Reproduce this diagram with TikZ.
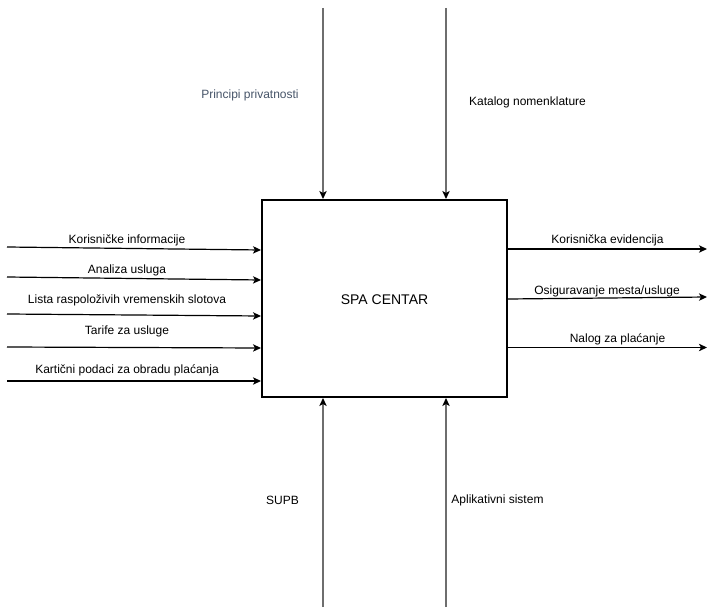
\documentclass[tikz,border=0pt]{standalone}
\usepackage{fontspec}
\setmainfont{Liberation Sans}
\usetikzlibrary{arrows.meta}
\definecolor{vline}{RGB}{110,110,110}
\definecolor{ctrltext}{RGB}{70,84,104}
\begin{document}
\begin{tikzpicture}[x=0.75pt,y=-0.75pt,
  font=\fontsize{9}{11}\selectfont,
  arr/.style={line width=0.9pt,-{Stealth[length=6pt,width=5.5pt,inset=1.5pt,black]}},
  varr/.style={arr,draw=vline},
  lbl/.style={inner sep=0pt,anchor=center}]
\useasboundingbox (0,0) rectangle (716,616);
\node[draw,line width=0.9pt,minimum width=245*0.75pt,minimum height=197*0.75pt,inner sep=0pt] (box) at (384.5,298.5) {};
\node[lbl,font=\fontsize{10.5}{12}\selectfont] (title) at (384.5,300) {SPA CENTAR};
% inputs
\coordinate (i1s) at (7,247); \coordinate (i1e) at (261,250);
\coordinate (i2s) at (7,277); \coordinate (i2e) at (261,280);
\coordinate (i3s) at (7,314); \coordinate (i3e) at (261,316);
\coordinate (i4s) at (7,347); \coordinate (i4e) at (261,348);
\coordinate (i5s) at (7,381); \coordinate (i5e) at (261,381);
\draw[arr] (i1s) -- (i1e);
\draw[arr] (i2s) -- (i2e);
\draw[arr] (i3s) -- (i3e);
\draw[arr] (i4s) -- (i4e);
\draw[arr] (i5s) -- (i5e);
\node[lbl] (l1) at (127,240) {Korisničke informacije};
\node[lbl] (l2) at (127,270.5) {Analiza usluga};
\node[lbl] (l3) at (127,300) {Lista raspoloživih vremenskih slotova};
\node[lbl] (l4) at (127,331) {Tarife za usluge};
\node[lbl] (l5) at (127,370.5) {Kartični podaci za obradu plaćanja};
% outputs
\coordinate (o1s) at (508,249); \coordinate (o1e) at (707,249);
\coordinate (o2s) at (508,299); \coordinate (o2e) at (707,297);
\coordinate (o3s) at (508,347.5); \coordinate (o3e) at (707,347.5);
\draw[arr] (o1s) -- (o1e);
\draw[arr] (o2s) -- (o2e);
\draw[arr] (o3s) -- (o3e);
\node[lbl] (r1) at (607.5,240) {Korisnička evidencija};
\node[lbl] (r2) at (607,291.5) {Osiguravanje mesta/usluge};
\node[lbl] (r3) at (617.5,339) {Nalog za plaćanje};
% controls
\coordinate (c1s) at (323,8); \coordinate (c2s) at (446,8);
\draw[varr] (c1s) -- (323,199);
\draw[varr] (c2s) -- (446,199);
\node[lbl,text=ctrltext] (t1) at (250,95) {Principi privatnosti};
\node[lbl] (t2) at (527.5,102) {Katalog nomenklature};
% mechanisms
\coordinate (m1s) at (323,607); \coordinate (m2s) at (446,607);
\draw[varr] (m1s) -- (323,398);
\draw[varr] (m2s) -- (446,398);
\node[lbl] (b1) at (282.5,500) {SUPB};
\node[lbl] (b2) at (497.5,500) {Aplikativni sistem};
\end{tikzpicture}
\end{document}
